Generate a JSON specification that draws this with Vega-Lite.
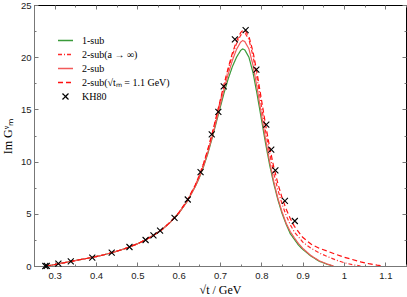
{
  "$schema": "https://vega.github.io/schema/vega-lite/v6.json",
  "width": 372,
  "height": 261,
  "autosize": {"type": "none"},
  "padding": {"left": 34, "top": 5, "right": 1, "bottom": 31},
  "background": "white",
  "config": {
    "view": {"stroke": "#000", "strokeWidth": 1},
    "axis": {"labelFont": "Liberation Sans", "labelFontSize": 9.5, "labelColor": "#222", "titleFont": "Liberation Serif", "titleFontWeight": "normal", "titleFontSize": 12, "titleColor": "#000", "grid": false, "domainColor": "#777", "tickColor": "#777"},
    "legend": {"orient": "none", "legendX": 23, "legendY": 27, "title": null, "symbolSize": 225, "symbolStrokeWidth": 1.3, "labelFont": "Liberation Serif", "labelFontSize": 10, "labelColor": "#000", "labelOffset": 8, "rowPadding": -0.5, "padding": 0}
  },
  "datasets": {
    "curves": [
      {"s": "1-sub", "x": 0.2791, "y": 0}, {"s": "1-sub", "x": 0.29, "y": 0.06}, {"s": "1-sub", "x": 0.30, "y": 0.14}, {"s": "1-sub", "x": 0.32, "y": 0.29}, {"s": "1-sub", "x": 0.34, "y": 0.45}, {"s": "1-sub", "x": 0.36, "y": 0.6}, {"s": "1-sub", "x": 0.38, "y": 0.74}, {"s": "1-sub", "x": 0.40, "y": 0.9}, {"s": "1-sub", "x": 0.42, "y": 1.08}, {"s": "1-sub", "x": 0.44, "y": 1.3}, {"s": "1-sub", "x": 0.46, "y": 1.53}, {"s": "1-sub", "x": 0.48, "y": 1.8}, {"s": "1-sub", "x": 0.50, "y": 2.12}, {"s": "1-sub", "x": 0.52, "y": 2.5}, {"s": "1-sub", "x": 0.54, "y": 2.95}, {"s": "1-sub", "x": 0.56, "y": 3.5}, {"s": "1-sub", "x": 0.58, "y": 4.2}, {"s": "1-sub", "x": 0.60, "y": 5.05}, {"s": "1-sub", "x": 0.62, "y": 6.15}, {"s": "1-sub", "x": 0.64, "y": 7.6},
      {"s": "1-sub", "x": 0.65, "y": 8.45}, {"s": "1-sub", "x": 0.66, "y": 9.5}, {"s": "1-sub", "x": 0.67, "y": 10.7}, {"s": "1-sub", "x": 0.68, "y": 12.1}, {"s": "1-sub", "x": 0.69, "y": 13.6}, {"s": "1-sub", "x": 0.70, "y": 15.1}, {"s": "1-sub", "x": 0.71, "y": 16.6}, {"s": "1-sub", "x": 0.72, "y": 17.95}, {"s": "1-sub", "x": 0.73, "y": 19.1}, {"s": "1-sub", "x": 0.74, "y": 20.0}, {"s": "1-sub", "x": 0.75, "y": 20.65}, {"s": "1-sub", "x": 0.755, "y": 20.8}, {"s": "1-sub", "x": 0.76, "y": 20.7}, {"s": "1-sub", "x": 0.77, "y": 20.0}, {"s": "1-sub", "x": 0.78, "y": 18.5}, {"s": "1-sub", "x": 0.79, "y": 16.4}, {"s": "1-sub", "x": 0.80, "y": 14.1}, {"s": "1-sub", "x": 0.81, "y": 11.8}, {"s": "1-sub", "x": 0.82, "y": 9.7}, {"s": "1-sub", "x": 0.83, "y": 7.9}, {"s": "1-sub", "x": 0.84, "y": 6.35}, {"s": "1-sub", "x": 0.85, "y": 5.05}, {"s": "1-sub", "x": 0.86, "y": 4.0}, {"s": "1-sub", "x": 0.87, "y": 3.1}, {"s": "1-sub", "x": 0.88, "y": 2.55}, {"s": "1-sub", "x": 0.89, "y": 2.0}, {"s": "1-sub", "x": 0.90, "y": 1.6}, {"s": "1-sub", "x": 0.92, "y": 0.95}, {"s": "1-sub", "x": 0.94, "y": 0.46}, {"s": "1-sub", "x": 0.96, "y": 0.15}, {"s": "1-sub", "x": 0.973, "y": 0},

      {"s": "2-sub(a → ∞)", "x": 0.2791, "y": 0}, {"s": "2-sub(a → ∞)", "x": 0.29, "y": 0.06}, {"s": "2-sub(a → ∞)", "x": 0.30, "y": 0.14}, {"s": "2-sub(a → ∞)", "x": 0.32, "y": 0.29}, {"s": "2-sub(a → ∞)", "x": 0.34, "y": 0.45}, {"s": "2-sub(a → ∞)", "x": 0.36, "y": 0.6}, {"s": "2-sub(a → ∞)", "x": 0.38, "y": 0.74}, {"s": "2-sub(a → ∞)", "x": 0.40, "y": 0.9}, {"s": "2-sub(a → ∞)", "x": 0.42, "y": 1.08}, {"s": "2-sub(a → ∞)", "x": 0.44, "y": 1.3}, {"s": "2-sub(a → ∞)", "x": 0.46, "y": 1.53}, {"s": "2-sub(a → ∞)", "x": 0.48, "y": 1.8}, {"s": "2-sub(a → ∞)", "x": 0.50, "y": 2.12}, {"s": "2-sub(a → ∞)", "x": 0.52, "y": 2.5}, {"s": "2-sub(a → ∞)", "x": 0.54, "y": 2.95}, {"s": "2-sub(a → ∞)", "x": 0.56, "y": 3.5}, {"s": "2-sub(a → ∞)", "x": 0.58, "y": 4.2}, {"s": "2-sub(a → ∞)", "x": 0.60, "y": 5.05}, {"s": "2-sub(a → ∞)", "x": 0.62, "y": 6.2}, {"s": "2-sub(a → ∞)", "x": 0.64, "y": 7.7},
      {"s": "2-sub(a → ∞)", "x": 0.65, "y": 8.65}, {"s": "2-sub(a → ∞)", "x": 0.66, "y": 9.75}, {"s": "2-sub(a → ∞)", "x": 0.67, "y": 11.0}, {"s": "2-sub(a → ∞)", "x": 0.68, "y": 12.45}, {"s": "2-sub(a → ∞)", "x": 0.69, "y": 14.05}, {"s": "2-sub(a → ∞)", "x": 0.70, "y": 15.7}, {"s": "2-sub(a → ∞)", "x": 0.71, "y": 17.3}, {"s": "2-sub(a → ∞)", "x": 0.72, "y": 18.85}, {"s": "2-sub(a → ∞)", "x": 0.73, "y": 20.2}, {"s": "2-sub(a → ∞)", "x": 0.74, "y": 21.3}, {"s": "2-sub(a → ∞)", "x": 0.75, "y": 22.1}, {"s": "2-sub(a → ∞)", "x": 0.757, "y": 22.4}, {"s": "2-sub(a → ∞)", "x": 0.76, "y": 22.35}, {"s": "2-sub(a → ∞)", "x": 0.77, "y": 21.7}, {"s": "2-sub(a → ∞)", "x": 0.78, "y": 20.1}, {"s": "2-sub(a → ∞)", "x": 0.79, "y": 17.9}, {"s": "2-sub(a → ∞)", "x": 0.80, "y": 15.4}, {"s": "2-sub(a → ∞)", "x": 0.81, "y": 13.0}, {"s": "2-sub(a → ∞)", "x": 0.82, "y": 10.8}, {"s": "2-sub(a → ∞)", "x": 0.83, "y": 8.9}, {"s": "2-sub(a → ∞)", "x": 0.84, "y": 7.3}, {"s": "2-sub(a → ∞)", "x": 0.85, "y": 5.95}, {"s": "2-sub(a → ∞)", "x": 0.86, "y": 4.85}, {"s": "2-sub(a → ∞)", "x": 0.87, "y": 3.95}, {"s": "2-sub(a → ∞)", "x": 0.88, "y": 3.25}, {"s": "2-sub(a → ∞)", "x": 0.90, "y": 2.3}, {"s": "2-sub(a → ∞)", "x": 0.92, "y": 1.7}, {"s": "2-sub(a → ∞)", "x": 0.94, "y": 1.25}, {"s": "2-sub(a → ∞)", "x": 0.96, "y": 0.9}, {"s": "2-sub(a → ∞)", "x": 0.98, "y": 0.58}, {"s": "2-sub(a → ∞)", "x": 1.00, "y": 0.32}, {"s": "2-sub(a → ∞)", "x": 1.02, "y": 0.13}, {"s": "2-sub(a → ∞)", "x": 1.04, "y": 0},

      {"s": "2-sub", "x": 0.2791, "y": 0}, {"s": "2-sub", "x": 0.29, "y": 0.06}, {"s": "2-sub", "x": 0.30, "y": 0.14}, {"s": "2-sub", "x": 0.32, "y": 0.29}, {"s": "2-sub", "x": 0.34, "y": 0.45}, {"s": "2-sub", "x": 0.36, "y": 0.6}, {"s": "2-sub", "x": 0.38, "y": 0.74}, {"s": "2-sub", "x": 0.40, "y": 0.9}, {"s": "2-sub", "x": 0.42, "y": 1.08}, {"s": "2-sub", "x": 0.44, "y": 1.3}, {"s": "2-sub", "x": 0.46, "y": 1.53}, {"s": "2-sub", "x": 0.48, "y": 1.8}, {"s": "2-sub", "x": 0.50, "y": 2.12}, {"s": "2-sub", "x": 0.52, "y": 2.5}, {"s": "2-sub", "x": 0.54, "y": 2.95}, {"s": "2-sub", "x": 0.56, "y": 3.5}, {"s": "2-sub", "x": 0.58, "y": 4.2}, {"s": "2-sub", "x": 0.60, "y": 5.05}, {"s": "2-sub", "x": 0.62, "y": 6.15}, {"s": "2-sub", "x": 0.64, "y": 7.6},
      {"s": "2-sub", "x": 0.65, "y": 8.5}, {"s": "2-sub", "x": 0.66, "y": 9.55}, {"s": "2-sub", "x": 0.67, "y": 10.8}, {"s": "2-sub", "x": 0.68, "y": 12.2}, {"s": "2-sub", "x": 0.69, "y": 13.75}, {"s": "2-sub", "x": 0.70, "y": 15.35}, {"s": "2-sub", "x": 0.71, "y": 16.95}, {"s": "2-sub", "x": 0.72, "y": 18.4}, {"s": "2-sub", "x": 0.73, "y": 19.7}, {"s": "2-sub", "x": 0.74, "y": 20.75}, {"s": "2-sub", "x": 0.75, "y": 21.45}, {"s": "2-sub", "x": 0.755, "y": 21.6}, {"s": "2-sub", "x": 0.76, "y": 21.5}, {"s": "2-sub", "x": 0.77, "y": 20.8}, {"s": "2-sub", "x": 0.78, "y": 19.2}, {"s": "2-sub", "x": 0.79, "y": 17.0}, {"s": "2-sub", "x": 0.80, "y": 14.6}, {"s": "2-sub", "x": 0.81, "y": 12.2}, {"s": "2-sub", "x": 0.82, "y": 10.0}, {"s": "2-sub", "x": 0.83, "y": 8.1}, {"s": "2-sub", "x": 0.84, "y": 6.5}, {"s": "2-sub", "x": 0.85, "y": 5.2}, {"s": "2-sub", "x": 0.86, "y": 4.1}, {"s": "2-sub", "x": 0.87, "y": 3.3}, {"s": "2-sub", "x": 0.88, "y": 2.7}, {"s": "2-sub", "x": 0.89, "y": 2.15}, {"s": "2-sub", "x": 0.90, "y": 1.7}, {"s": "2-sub", "x": 0.92, "y": 1.0}, {"s": "2-sub", "x": 0.94, "y": 0.5}, {"s": "2-sub", "x": 0.96, "y": 0.18}, {"s": "2-sub", "x": 0.975, "y": 0},

      {"s": "2-sub(√tₘ = 1.1 GeV)", "x": 0.2791, "y": 0}, {"s": "2-sub(√tₘ = 1.1 GeV)", "x": 0.29, "y": 0.06}, {"s": "2-sub(√tₘ = 1.1 GeV)", "x": 0.30, "y": 0.14}, {"s": "2-sub(√tₘ = 1.1 GeV)", "x": 0.32, "y": 0.29}, {"s": "2-sub(√tₘ = 1.1 GeV)", "x": 0.34, "y": 0.45}, {"s": "2-sub(√tₘ = 1.1 GeV)", "x": 0.36, "y": 0.6}, {"s": "2-sub(√tₘ = 1.1 GeV)", "x": 0.38, "y": 0.74}, {"s": "2-sub(√tₘ = 1.1 GeV)", "x": 0.40, "y": 0.9}, {"s": "2-sub(√tₘ = 1.1 GeV)", "x": 0.42, "y": 1.08}, {"s": "2-sub(√tₘ = 1.1 GeV)", "x": 0.44, "y": 1.3}, {"s": "2-sub(√tₘ = 1.1 GeV)", "x": 0.46, "y": 1.53}, {"s": "2-sub(√tₘ = 1.1 GeV)", "x": 0.48, "y": 1.8}, {"s": "2-sub(√tₘ = 1.1 GeV)", "x": 0.50, "y": 2.12}, {"s": "2-sub(√tₘ = 1.1 GeV)", "x": 0.52, "y": 2.5}, {"s": "2-sub(√tₘ = 1.1 GeV)", "x": 0.54, "y": 2.95}, {"s": "2-sub(√tₘ = 1.1 GeV)", "x": 0.56, "y": 3.5}, {"s": "2-sub(√tₘ = 1.1 GeV)", "x": 0.58, "y": 4.22}, {"s": "2-sub(√tₘ = 1.1 GeV)", "x": 0.60, "y": 5.1}, {"s": "2-sub(√tₘ = 1.1 GeV)", "x": 0.62, "y": 6.25}, {"s": "2-sub(√tₘ = 1.1 GeV)", "x": 0.64, "y": 7.75},
      {"s": "2-sub(√tₘ = 1.1 GeV)", "x": 0.65, "y": 8.7}, {"s": "2-sub(√tₘ = 1.1 GeV)", "x": 0.66, "y": 9.8}, {"s": "2-sub(√tₘ = 1.1 GeV)", "x": 0.67, "y": 11.1}, {"s": "2-sub(√tₘ = 1.1 GeV)", "x": 0.68, "y": 12.55}, {"s": "2-sub(√tₘ = 1.1 GeV)", "x": 0.69, "y": 14.15}, {"s": "2-sub(√tₘ = 1.1 GeV)", "x": 0.70, "y": 15.8}, {"s": "2-sub(√tₘ = 1.1 GeV)", "x": 0.71, "y": 17.45}, {"s": "2-sub(√tₘ = 1.1 GeV)", "x": 0.72, "y": 19.0}, {"s": "2-sub(√tₘ = 1.1 GeV)", "x": 0.73, "y": 20.4}, {"s": "2-sub(√tₘ = 1.1 GeV)", "x": 0.74, "y": 21.55}, {"s": "2-sub(√tₘ = 1.1 GeV)", "x": 0.75, "y": 22.35}, {"s": "2-sub(√tₘ = 1.1 GeV)", "x": 0.757, "y": 22.65}, {"s": "2-sub(√tₘ = 1.1 GeV)", "x": 0.76, "y": 22.6}, {"s": "2-sub(√tₘ = 1.1 GeV)", "x": 0.77, "y": 22.0}, {"s": "2-sub(√tₘ = 1.1 GeV)", "x": 0.78, "y": 20.5}, {"s": "2-sub(√tₘ = 1.1 GeV)", "x": 0.79, "y": 18.4}, {"s": "2-sub(√tₘ = 1.1 GeV)", "x": 0.80, "y": 16.0}, {"s": "2-sub(√tₘ = 1.1 GeV)", "x": 0.81, "y": 13.6}, {"s": "2-sub(√tₘ = 1.1 GeV)", "x": 0.82, "y": 11.4}, {"s": "2-sub(√tₘ = 1.1 GeV)", "x": 0.83, "y": 9.5}, {"s": "2-sub(√tₘ = 1.1 GeV)", "x": 0.84, "y": 7.9}, {"s": "2-sub(√tₘ = 1.1 GeV)", "x": 0.85, "y": 6.55}, {"s": "2-sub(√tₘ = 1.1 GeV)", "x": 0.86, "y": 5.45}, {"s": "2-sub(√tₘ = 1.1 GeV)", "x": 0.87, "y": 4.55}, {"s": "2-sub(√tₘ = 1.1 GeV)", "x": 0.88, "y": 3.8}, {"s": "2-sub(√tₘ = 1.1 GeV)", "x": 0.90, "y": 2.75}, {"s": "2-sub(√tₘ = 1.1 GeV)", "x": 0.92, "y": 2.1}, {"s": "2-sub(√tₘ = 1.1 GeV)", "x": 0.94, "y": 1.7}, {"s": "2-sub(√tₘ = 1.1 GeV)", "x": 0.96, "y": 1.42}, {"s": "2-sub(√tₘ = 1.1 GeV)", "x": 0.98, "y": 1.12}, {"s": "2-sub(√tₘ = 1.1 GeV)", "x": 1.00, "y": 0.85}, {"s": "2-sub(√tₘ = 1.1 GeV)", "x": 1.02, "y": 0.62}, {"s": "2-sub(√tₘ = 1.1 GeV)", "x": 1.04, "y": 0.4}, {"s": "2-sub(√tₘ = 1.1 GeV)", "x": 1.06, "y": 0.22}, {"s": "2-sub(√tₘ = 1.1 GeV)", "x": 1.08, "y": 0.08}, {"s": "2-sub(√tₘ = 1.1 GeV)", "x": 1.095, "y": 0}
    ],
    "kh80": [
      {"s": "KH80", "x": 0.2775, "y": 0.0}, {"s": "KH80", "x": 0.281, "y": 0.02}, {"s": "KH80", "x": 0.309, "y": 0.23}, {"s": "KH80", "x": 0.339, "y": 0.45}, {"s": "KH80", "x": 0.391, "y": 0.8}, {"s": "KH80", "x": 0.438, "y": 1.28}, {"s": "KH80", "x": 0.481, "y": 1.82}, {"s": "KH80", "x": 0.52, "y": 2.49}, {"s": "KH80", "x": 0.539, "y": 2.94}, {"s": "KH80", "x": 0.555, "y": 3.39}, {"s": "KH80", "x": 0.59, "y": 4.6}, {"s": "KH80", "x": 0.622, "y": 6.37}, {"s": "KH80", "x": 0.653, "y": 9.0}, {"s": "KH80", "x": 0.68, "y": 12.6}, {"s": "KH80", "x": 0.696, "y": 14.76}, {"s": "KH80", "x": 0.709, "y": 17.2}, {"s": "KH80", "x": 0.736, "y": 21.7}, {"s": "KH80", "x": 0.762, "y": 22.6}, {"s": "KH80", "x": 0.788, "y": 18.8}, {"s": "KH80", "x": 0.812, "y": 13.55}, {"s": "KH80", "x": 0.824, "y": 11.15}, {"s": "KH80", "x": 0.834, "y": 9.17}, {"s": "KH80", "x": 0.857, "y": 6.23}, {"s": "KH80", "x": 0.881, "y": 4.31}
    ]
  },
  "layer": [
    {
      "data": {"name": "curves"},
      "mark": {"type": "line", "strokeWidth": 1.2, "clip": true},
      "encoding": {
        "x": {"field": "x", "type": "quantitative", "scale": {"domain": [0.25, 1.15], "nice": false, "zero": false},
          "axis": {"orient": "bottom", "title": "√t / GeV", "titleX": 186, "titleY": 27, "titleBaseline": "alphabetic", "titleAlign": "center", "values": [0.25, 0.3, 0.35, 0.4, 0.45, 0.5, 0.55, 0.6, 0.65, 0.7, 0.75, 0.8, 0.85, 0.9, 0.95, 1.0, 1.05, 1.1, 1.15], "format": "~g", "labelExpr": "abs(datum.value*10-round(datum.value*10))<0.001 ? datum.label : ''", "tickSize": {"condition": {"test": "abs(datum.value*10-round(datum.value*10))>0.001", "value": -2}, "value": -4}, "labelPadding": 8, "labelFlush": false}},
        "y": {"field": "y", "type": "quantitative", "scale": {"domain": [0, 25], "nice": false},
          "axis": {"orient": "left", "title": "Im Gᵛₘ", "titleX": -20, "titleY": 131, "titleAngle": -90, "titleBaseline": "bottom", "titleAlign": "center", "values": [0, 2.5, 5, 7.5, 10, 12.5, 15, 17.5, 20, 22.5, 25], "labelExpr": "datum.value % 5 == 0 ? datum.label : ''", "tickSize": {"condition": {"test": "datum.value % 5 != 0", "value": -2}, "value": -4}, "labelPadding": 7, "labelFlush": false}},
        "color": {"field": "s", "type": "nominal", "scale": {"domain": ["1-sub", "2-sub(a → ∞)", "2-sub", "2-sub(√tₘ = 1.1 GeV)", "KH80"], "range": ["#3a9a3a", "#ff2a2a", "#f25a5a", "#ff1010", "#000000"]}, "legend": {}},
        "strokeDash": {"field": "s", "type": "nominal", "scale": {"domain": ["1-sub", "2-sub(a → ∞)", "2-sub", "2-sub(√tₘ = 1.1 GeV)", "KH80"], "range": [[1, 0], [4, 2, 1, 2], [1, 0], [5, 3], [1, 0]]}, "legend": {}}
      }
    },
    {
      "data": {"name": "kh80"},
      "mark": {"type": "point", "filled": false, "size": 225, "strokeWidth": 1.1, "opacity": 1},
      "encoding": {
        "x": {"field": "x", "type": "quantitative",
          "axis": {"orient": "top", "title": null, "labels": false, "domain": false, "values": [0.25, 0.3, 0.35, 0.4, 0.45, 0.5, 0.55, 0.6, 0.65, 0.7, 0.75, 0.8, 0.85, 0.9, 0.95, 1.0, 1.05, 1.1, 1.15], "tickSize": {"condition": {"test": "abs(datum.value*10-round(datum.value*10))>0.001", "value": -2}, "value": -4}}},
        "y": {"field": "y", "type": "quantitative",
          "axis": {"orient": "right", "title": null, "labels": false, "domain": false, "values": [0, 2.5, 5, 7.5, 10, 12.5, 15, 17.5, 20, 22.5, 25], "tickSize": {"condition": {"test": "datum.value % 5 != 0", "value": -2}, "value": -4}}},
        "color": {"field": "s", "type": "nominal"},
        "shape": {"field": "s", "type": "nominal", "scale": {"domain": ["1-sub", "2-sub(a → ∞)", "2-sub", "2-sub(√tₘ = 1.1 GeV)", "KH80"], "range": ["M-1,0L1,0", "M-1,0L1,0", "M-1,0L1,0", "M-1,0L1,0", "M-0.4,-0.4L0.4,0.4M-0.4,0.4L0.4,-0.4"]}, "legend": {}}
      }
    }
  ],
  "resolve": {"axis": {"x": "independent", "y": "independent"}}
}
